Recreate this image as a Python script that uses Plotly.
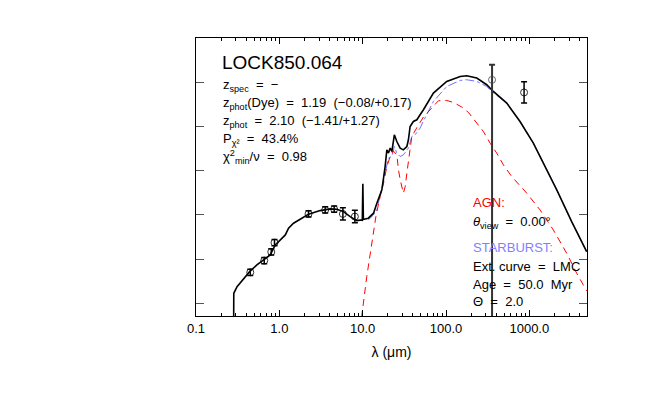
import plotly.graph_objects as go

# total SED (black)
tot_lam = [0.283, 0.284, 0.311, 0.373, 0.440, 0.538, 0.659, 0.778, 0.893, 1.03, 1.18, 1.29, 1.48,
           1.78, 2.24, 3.09, 4.07, 4.91, 5.89, 7.08, 8.51, 9.78, 9.9, 10.05, 10.2, 10.4, 11.7,
           13.5, 14.8, 17.0, 18.6, 19.5, 20.4, 21.4, 22.4, 24.0, 25.7, 28.2, 30.8, 33.9, 35.4,
           37.1, 40.6, 44.7, 48.9, 53.6, 70.6, 102, 148, 177, 234, 308, 370, 536, 773, 1117,
           1618, 2133, 3221, 4875]
tot_flux = [-0.6, 0.226, 0.376, 0.566, 0.715, 0.867, 0.995, 1.093, 1.319, 1.432, 1.545, 1.697, 1.810,
            1.900, 2.014, 2.095, 2.133, 2.127, 2.072, 1.959, 1.869, 1.885, 1.88, 2.699, 1.89, 1.900, 1.923,
            2.036, 2.262, 2.563, 3.090, 3.468, 3.394, 3.507, 3.430, 3.808, 3.656, 3.507, 3.468, 3.543, 3.695,
            3.995, 4.109, 4.147, 4.260, 4.373, 4.751, 5.014, 5.127, 5.143, 5.090, 4.939, 4.787, 4.525, 4.109, 3.620,
            3.016, 2.563, 1.846, 1.167]

# starburst component (blue)
sb_lam = [11.7, 13.5, 14.8, 15.8, 17.0, 18.6, 20.4, 22.4, 24.0, 25.7, 28.2, 30.8, 35.4, 38.9, 42.6,
          48.9, 53.6, 70.6, 102, 148, 177, 234, 308, 354, 536, 773, 1117, 1618, 2133, 3221, 4875]
sb_flux = [1.885, 1.998, 2.111, 2.337, 2.638, 2.941, 3.281, 3.317, 3.543, 3.394, 3.317, 3.355, 3.507, 3.769, 3.808,
           3.959, 4.12, 4.561, 4.900, 5.036, 5.052, 5.014, 4.900, 4.787, 4.525, 4.109, 3.620, 3.016, 2.563, 1.846, 1.167]

# AGN component (red)
agn_lam = [9.6, 9.78, 11.2, 12.0, 12.9, 14.4, 16.2, 17.8, 19.5, 21.4, 23.2, 25.7, 26.9, 28.2, 30.8, 32.4,
           33.9, 35.4, 37.1, 38.9, 44.7, 53.6, 81.1, 102, 123, 155, 186, 234, 281, 338, 406, 488, 615,
           931, 1343, 1941, 2806, 3701, 4656, 4875]
agn_flux = [-0.6, -0.265, 0.602, 0.980, 1.432, 1.959, 2.412, 2.715, 3.090, 3.317, 3.446, 3.355, 3.016, 2.790, 2.489, 2.638,
            2.941, 3.242, 3.543, 3.769, 3.97, 4.21, 4.577, 4.584, 4.538, 4.434, 4.312, 4.072, 3.882, 3.620, 3.394, 3.129, 2.864,
            2.489, 2.111, 1.658, 1.131, 0.679, 0.339, 0.28]

# photometry
obs_lam = [0.448, 0.659, 0.80, 0.875, 2.24, 3.55, 4.55, 5.79, 8.06, 865]
obs_flux = [0.70, 0.964, 1.16, 1.371, 2.02, 2.11, 2.127, 2.02, 1.96, 4.765]
obs_err = [0.07, 0.07, 0.07, 0.07, 0.07, 0.07, 0.07, 0.14, 0.14, 0.24]
# 350 micron point with a huge lower error
fir_lam = [357]
fir_flux = [5.05]
fir_up = [0.34]
fir_dn = [8.0]

xtick_vals = [0.1, 1, 10, 100, 1000]
xtick_text = ['0.1', '1.0', '10.0', '100.0', '1000.0']
ytick_vals = [0, 1, 2, 3, 4, 5]

FONT = 'Liberation Sans'

fig = go.Figure()
fig.add_trace(go.Scatter(x=sb_lam, y=sb_flux, mode='lines',
                         line=dict(color='#6f6fff', width=1, dash='dashdot')))
fig.add_trace(go.Scatter(x=agn_lam, y=agn_flux, mode='lines',
                         line=dict(color='#ff0000', width=1, dash='7px,5px')))
fig.add_trace(go.Scatter(x=tot_lam, y=tot_flux, mode='lines',
                         line=dict(color='black', width=1.6)))
fig.add_trace(go.Scatter(x=obs_lam, y=obs_flux, mode='markers',
                         marker=dict(symbol='circle-open', size=7, color='black', line=dict(width=0.8)),
                         error_y=dict(type='data', array=obs_err, color='black', thickness=1.5, width=3)))
fig.add_trace(go.Scatter(x=fir_lam, y=fir_flux, mode='markers',
                         marker=dict(symbol='circle-open', size=7, color='#444', line=dict(width=0.8)),
                         error_y=dict(type='data', symmetric=False, array=fir_up, arrayminus=fir_dn,
                                      color='#333', thickness=2, width=3)))

# page body has an 8px margin, so the figure is 8px smaller than the window
fig.update_layout(
    width=645, height=388,
    margin=dict(l=188, r=66, t=30, b=80),
    paper_bgcolor='white', plot_bgcolor='white',
    showlegend=False,
    font=dict(family=FONT, color='black', size=13),
    xaxis=dict(type='log', range=[-1, 3.692], showgrid=False, zeroline=False,
               showline=True, linecolor='black', linewidth=1, mirror='allticks',
               ticks='inside', ticklen=6, tickcolor='black',
               tickvals=xtick_vals, ticktext=xtick_text, tickfont=dict(size=13),
               minor=dict(ticks='inside', ticklen=3, tickcolor='black', dtick='D1', showgrid=False),
               title=dict(text='λ (μm)', font=dict(size=14), standoff=12)),
    yaxis=dict(range=[-0.287, 5.995], showgrid=False, zeroline=False,
               showline=True, linecolor='black', linewidth=1, mirror='allticks',
               ticks='inside', ticklen=8, tickcolor='#555', tickvals=ytick_vals,
               showticklabels=False),
)

def px2paper(px, py):
    return (px - 195.7) / 391.3, (316 - py) / 277.7

def note(text, px, py, size=13, color='black'):
    x, y = px2paper(px, py)
    fig.add_annotation(text=text, x=x, y=y, xref='paper', yref='paper', xanchor='left', yanchor='middle',
                       showarrow=False, font=dict(size=size, color=color, family=FONT))

note('LOCK850.064', 220, 63, size=19)
note('z<sub>spec</sub>  =  −', 221, 86)
note('z<sub>phot</sub>(Dye)  =  1.19  (−0.08/+0.17)', 221, 104)
note('z<sub>phot</sub>  =  2.10  (−1.41/+1.27)', 221, 122)
note('P<sub>χ²</sub>  =  43.4%', 221, 140)
note('χ<sup>2</sup><sub>min</sub>/ν  =  0.98', 221, 157)

note('AGN:', 471, 203, color='#ff0000')
note('<i>θ</i><sub>view</sub>  =  0.00°', 471, 223)
note('STARBURST:', 471, 248, color='#7f7fff')
note('Ext. curve  =  LMC', 471, 267)
note('Age  =  50.0  Myr', 471, 285)
note('Θ  =  2.0', 471, 302)

fig.write_html("out.html")
